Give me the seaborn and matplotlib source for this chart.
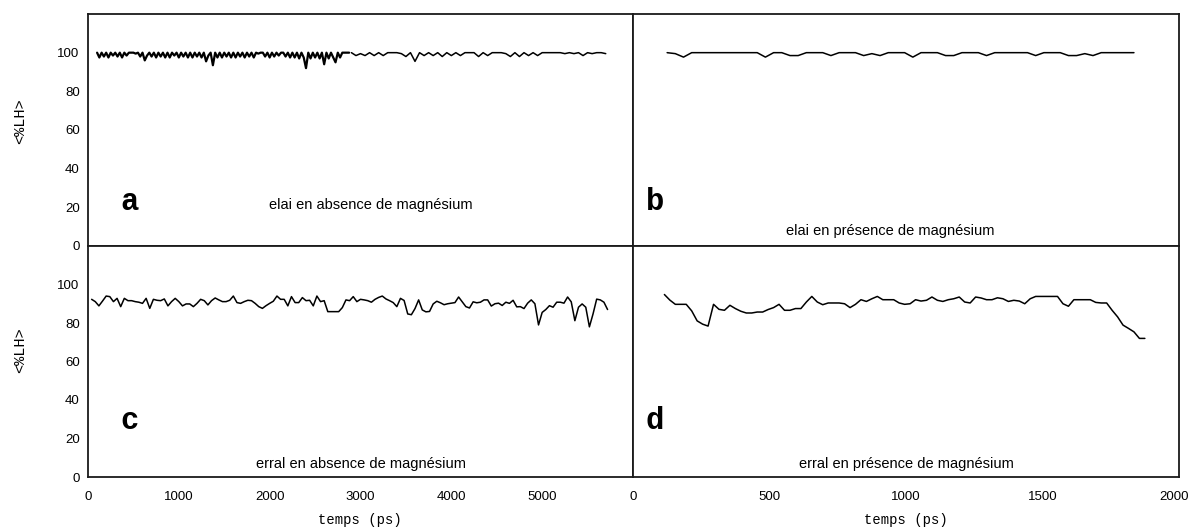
import numpy as np
import pandas as pd
import matplotlib
matplotlib.use("Agg")
import matplotlib.pyplot as plt
import matplotlib.transforms as mtransforms
from matplotlib import font_manager
import seaborn as sns

# ---- datos ----
# a : elai sin magnesio (parte densa + parte espaciada)
a_dense_start, a_dense_step = 100, 25
a_dense_vals = [
    100, 97.5, 100, 98, 100, 97.5, 100, 98.5, 100, 98, 100, 97.5, 100, 98.5, 100, 100,
    100, 99.5, 100, 98, 100, 96, 98.5, 100, 98, 100, 97.5, 100, 98, 100, 97.5, 100,
    97.5, 100, 98.5, 100, 97.5, 100, 98, 100, 97.5, 100, 97.5, 100, 98, 100, 97.5, 100,
    95.5, 98.5, 100, 93.5, 100, 97.5, 100, 97.5, 100, 98, 100, 97.5, 100, 97.5, 100, 98,
    100, 97.5, 100, 98, 100, 97.5, 100, 99.5, 100, 100, 98, 100, 97.5, 100, 98, 100,
    98.5, 100, 100, 98, 100, 97.5, 100, 97.5, 100, 97, 100, 97.5, 92, 100, 97, 100,
    97.5, 100, 97, 100, 94, 100, 97, 100, 97.5, 95, 100, 97.5, 100, 100, 100, 100,
]
a_sparse_start, a_sparse_step = 2900, 50
a_sparse_vals = [
    100, 98.5, 99.5, 98.5, 100, 98.5, 100, 98.5, 100, 100, 100, 99.5, 98, 100, 95.5,
    100, 98.5, 100, 98.5, 100, 98, 100, 98.5, 100, 98.5, 100, 100, 100, 98, 100,
    98.5, 100, 100, 100, 99.5, 98, 100, 98, 100, 98.5, 100, 98.5, 100, 100, 100,
    100, 100, 99.5, 100, 99.5, 100, 98.5, 100, 99.5, 100, 100, 99.5,
]

# b : elai avec magnesio
b_start, b_step = 125, 30
b_vals = [
    100, 99.5, 97.7, 100, 100, 100, 100, 100, 100, 100, 100, 100, 97.7, 100, 100,
    98.5, 98.5, 100, 100, 100, 98.5, 100, 100, 100, 98.5, 99.5, 98.5, 100, 100, 100,
    97.7, 100, 100, 100, 98.5, 98.5, 100, 100, 100, 98.5, 100, 100, 100, 100, 100,
    98.5, 100, 100, 100, 98.5, 98.5, 99.5, 98.5, 100, 100, 100, 100, 100,
]

# c : erral sin magnesio
c_start, c_step = 40, 40
c_vals = [
    92.3, 91.1, 88.9, 91.4, 94.0, 93.7, 91.1, 92.8, 88.5, 92.8, 91.6, 91.6, 91.1, 90.8,
    90.2, 92.8, 87.6, 92.3, 91.8, 91.6, 92.5, 88.9, 91.1, 92.8, 91.1, 88.9, 89.9, 89.9,
    88.5, 90.2, 92.3, 91.6, 89.4, 91.6, 93.0, 92.0, 91.1, 91.1, 91.8, 94.0, 90.6, 90.2,
    91.1, 91.8, 91.6, 90.2, 88.5, 87.6, 89.0, 90.2, 91.3, 94.0, 92.3, 92.3, 88.9, 93.7,
    90.6, 90.6, 93.2, 91.6, 91.8, 88.9, 94.0, 91.1, 91.6, 85.9, 85.9, 85.9, 85.9, 88.0,
    92.0, 91.6, 93.7, 91.1, 92.3, 92.0, 91.6, 90.8, 92.3, 93.3, 94.0, 92.5, 91.6, 90.6,
    88.5, 92.8,
    91.7, 84.7, 84.3, 87.5, 92.0, 86.8, 85.8, 86.0, 89.9, 91.3, 90.5, 89.5, 90.0, 90.3,
    90.6, 93.5, 91.0, 88.5, 87.8, 91.0, 90.5, 90.8, 92.0, 92.0, 88.8, 90.0, 90.3, 89.1,
    90.8, 90.2, 91.8, 88.4, 88.5, 87.5, 90.3, 92.0, 90.0, 79.0, 85.5, 87.0, 89.0, 88.2,
    90.8, 90.8, 90.3, 93.5, 91.0, 81.2, 88.2, 89.9, 88.2, 78.0, 84.7, 92.4, 92.0, 90.8,
    87.0,
]

# d : erral avec magnesio
d_start, d_step = 115, 20
d_vals = [
    94.8, 91.9, 89.7, 89.7, 89.7, 86.3, 81.1, 79.4, 78.4, 89.7, 87.1, 86.6, 89.2, 87.5,
    86.1, 85.2, 85.2, 85.7, 85.7, 87.0, 88.0, 89.7, 86.6, 86.6, 87.5, 87.5, 90.9, 93.8,
    90.9, 89.5, 90.4, 90.4, 90.4, 90.0, 88.0, 89.7, 92.1, 91.2, 92.6, 93.8, 92.1, 92.1,
    92.1, 90.4, 89.7, 90.0, 92.1, 91.4, 91.8, 93.5, 91.8, 91.2, 92.1, 92.6, 93.5, 90.9,
    90.4, 93.5, 93.0, 92.1, 92.1, 93.1, 92.6, 91.2, 91.8, 91.4, 90.0, 92.6, 93.8, 93.8,
    93.8, 93.8, 93.8, 90.0, 88.7, 92.1, 92.1, 92.1, 92.1, 90.7, 90.4, 90.4, 86.6, 83.2,
    78.9, 77.2, 75.4, 72.0, 72.0,
]

panel_captions = [
    "elai en absence de magnésium",
    "elai en présence de magnésium",
    "erral en absence de magnésium",
    "erral en présence de magnésium",
]
y_ticks = [0, 20, 40, 60, 80, 100]
x_ticks_long = [0, 1000, 2000, 3000, 4000, 5000]
x_ticks_short = [0, 500, 1000, 1500, 2000]


def serie(start, step, vals):
    t = start + step * np.arange(len(vals))
    return pd.DataFrame({"temps": t, "lh": vals})


def pick_font(names):
    disponibles = {f.name for f in font_manager.fontManager.ttflist}
    for n in names:
        if n in disponibles:
            return n
    return "DejaVu Sans"


sns.set_theme(style="white")
narrow = pick_font(["Liberation Sans Narrow", "Liberation Sans", "Arimo"])
mono = pick_font(["Liberation Mono", "Cousine", "DejaVu Sans Mono"])
plt.rcParams["font.family"] = [narrow, "DejaVu Sans"]
plt.rcParams["text.color"] = "black"
plt.rcParams["xtick.color"] = "black"
plt.rcParams["ytick.color"] = "black"

fig = plt.figure(figsize=(11.91, 5.29), dpi=100)
W, H = 1191, 529


def make_ax(x0, y0, x1, y1):
    return fig.add_axes([x0 / W, (H - y1) / H, (x1 - x0) / W, (y1 - y0) / H])


ax_a = make_ax(88, 14, 633, 246)
ax_b = make_ax(633, 14, 1179, 246)
ax_c = make_ax(88, 246, 633, 477)
ax_d = make_ax(633, 246, 1179, 477)

# parte densa de "a" un poco más gruesa, como en el original
sns.lineplot(data=serie(a_dense_start, a_dense_step, a_dense_vals), x="temps", y="lh",
             ax=ax_a, color="black", linewidth=1.6, estimator=None, sort=False)

datos = [
    (ax_a, serie(a_sparse_start, a_sparse_step, a_sparse_vals), 6000),
    (ax_b, serie(b_start, b_step, b_vals), 2000),
    (ax_c, serie(c_start, c_step, c_vals), 6000),
    (ax_d, serie(d_start, d_step, d_vals), 2000),
]

for i, (ax, df, xmax) in enumerate(datos):
    sns.lineplot(data=df, x="temps", y="lh", ax=ax, color="black",
                 linewidth=1.1, estimator=None, sort=False)
    ax.set_xlim(0, xmax)
    ax.set_ylim(0, 120)
    ax.set_yticks(y_ticks)
    ax.set_xticks(x_ticks_long if xmax == 6000 else x_ticks_short)
    ax.set_xlabel("")
    ax.set_ylabel("")
    for s in ax.spines.values():
        s.set_visible(True)
        s.set_color("#1a1a1a")
        s.set_linewidth(1.3)
    ax.tick_params(axis="y", direction="inout", length=6, width=1,
                   labelsize=9.5, pad=3)
    ax.tick_params(axis="x", direction="out", length=4, width=1,
                   labelsize=9.5, pad=6)
    if i in (1, 3):
        ax.tick_params(axis="y", labelleft=False)
    if i in (0, 1):
        ax.tick_params(axis="x", labelbottom=False, length=2)
    ax.set_facecolor("white")

# el "2000" final queda pegado al borde: se desplaza unos píxeles
fig.canvas.draw()
last = ax_d.get_xticklabels()[-1]
last.set_transform(last.get_transform() +
                   mtransforms.ScaledTranslation(-5 / 100, 0, fig.dpi_scale_trans))

# letras de panel
for ax, x, y, letra in [(ax_a, 452, 23, "a"), (ax_b, 80, 23, "b"),
                        (ax_c, 452, 29, "c"), (ax_d, 80, 29, "d")]:
    ax.text(x, y, letra, fontsize=22, fontweight="bold", family=mono,
            ha="center", va="center")

# leyendas internas
ax_a.text(3110, 21, panel_captions[0], fontsize=10.5, ha="center", va="center")
ax_b.text(941, 7.5, panel_captions[1], fontsize=10.5, ha="center", va="center")
ax_c.text(3000, 6.8, panel_captions[2], fontsize=10.5, ha="center", va="center")
ax_d.text(1000, 6.8, panel_captions[3], fontsize=10.5, ha="center", va="center")

# etiquetas de ejes
fig.text(20 / W, (H - 121) / H, "<%LH>", rotation=90, family=mono,
         fontsize=11, ha="center", va="center")
fig.text(20 / W, (H - 350) / H, "<%LH>", rotation=90, family=mono,
         fontsize=11, ha="center", va="center")
fig.text(360 / W, (H - 520) / H, "temps (ps)", family=mono, fontsize=10,
         ha="center", va="center")
fig.text(906 / W, (H - 520) / H, "temps (ps)", family=mono, fontsize=10,
         ha="center", va="center")

fig.savefig("out.png", dpi=100, facecolor="white")
